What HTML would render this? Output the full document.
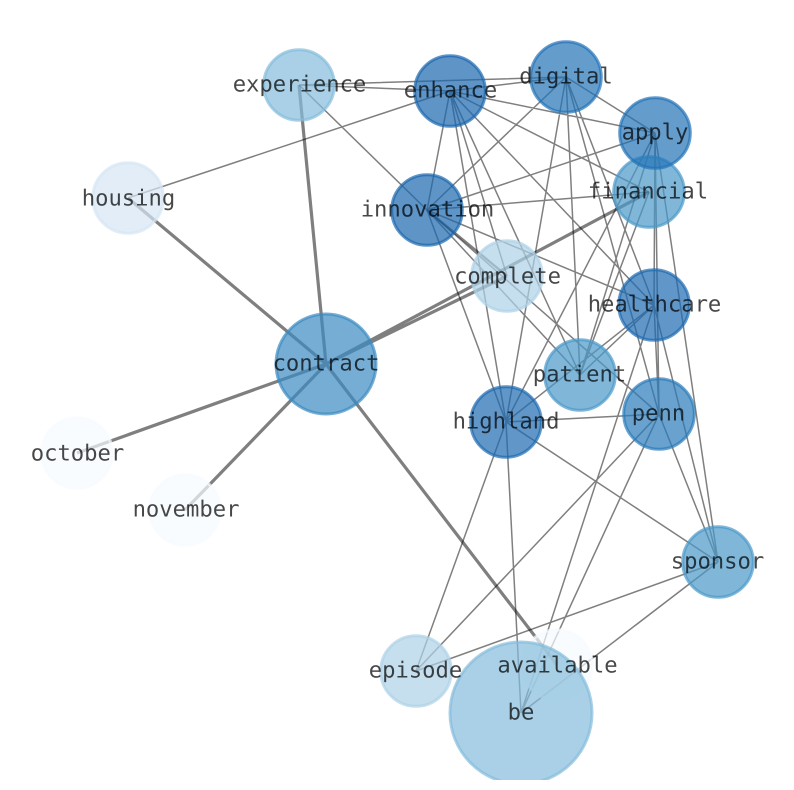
<!DOCTYPE html>
<html><head><meta charset="utf-8"><style>
html,body{margin:0;padding:0;background:#fff;width:794px;height:790px;overflow:hidden}
svg{display:block}
text{font-family:"DejaVu Sans Mono","Liberation Mono",monospace;font-size:22.2px;fill:#000;fill-opacity:.72;text-anchor:middle;text-rendering:geometricPrecision}
.t{stroke:#000;stroke-opacity:.5;stroke-width:1.5;fill:none}
.k{stroke:#000;stroke-opacity:.5;stroke-width:3.2;fill:none}
circle{fill-opacity:.7;stroke-opacity:.7;stroke-width:3}
</style></head><body>
<svg width="794" height="790" viewBox="0 0 794 790" xmlns="http://www.w3.org/2000/svg">
<defs><clipPath id="c"><rect x="0" y="0" width="794" height="780"/></clipPath></defs>
<g clip-path="url(#c)">
<path class="k" d="M326 364L128 198M326 364L299 85M326 364L77 453M326 364L185 510M326 364L557 665M326 364L649 192M326 364L507 276"/>
<path class="k" style="stroke-width:2.4" d="M427 210L507 276"/>
<path class="t" d="M299 85L450 91M299 85L566 77M299 85L427 210
M450 91L128 198M450 91L566 77M450 91L655 133M450 91L649 192M450 91L427 210M450 91L507 276M450 91L654 305M450 91L580 375M450 91L506 422
M566 77L655 133M566 77L427 210M566 77L506 422M566 77L580 375M566 77L654 305M566 77L659 414
M655 133L427 210M655 133L506 422M655 133L580 375M655 133L654 305M655 133L659 414M655 133L718 562
M649 192L427 210M649 192L580 375
M427 210L506 422M427 210L580 375M427 210L654 305M427 210L659 414
M654 305L580 375M654 305L506 422M654 305L659 414M654 305L718 562M654 305L521 713
M506 422L659 414M506 422L718 562M506 422L416 671M506 422L521 713
M659 414L416 671M659 414L521 713M659 414L718 562
M718 562L416 671M718 562L521 713"/>
<circle cx="299" cy="85" r="35.3" fill="#85bcdc" stroke="#85bcdc"/>
<circle cx="128" cy="198" r="35.3" fill="#d6e6f4" stroke="#d6e6f4"/>
<circle cx="77" cy="453" r="35.3" fill="#f7fbff" stroke="#f7fbff"/>
<circle cx="185" cy="510" r="35.3" fill="#f7fbff" stroke="#f7fbff"/>
<circle cx="557" cy="665" r="35.3" fill="#f7fbff" stroke="#f7fbff"/>
<circle cx="507" cy="276" r="35.3" fill="#aed1e7" stroke="#aed1e7"/>
<circle cx="416" cy="671" r="35.3" fill="#aed1e7" stroke="#aed1e7"/>
<circle cx="521" cy="713" r="71" fill="#85bcdc" stroke="#85bcdc"/>
<circle cx="326" cy="364" r="50" fill="#3a8ac2" stroke="#3a8ac2"/>
<circle cx="649" cy="192" r="35.3" fill="#4a98c9" stroke="#4a98c9"/>
<circle cx="580" cy="375" r="35.3" fill="#4a98c9" stroke="#4a98c9"/>
<circle cx="718" cy="562" r="35.3" fill="#4a98c9" stroke="#4a98c9"/>
<circle cx="659" cy="414" r="35.3" fill="#2a7ab9" stroke="#2a7ab9"/>
<circle cx="566" cy="77" r="35.3" fill="#2272b6" stroke="#2272b6"/>
<circle cx="655" cy="133" r="35.3" fill="#2272b6" stroke="#2272b6"/>
<circle cx="654" cy="305" r="35.3" fill="#1c6ab0" stroke="#1c6ab0"/>
<circle cx="506" cy="422" r="35.3" fill="#1c6ab0" stroke="#1c6ab0"/>
<circle cx="450" cy="91" r="35.3" fill="#1a67ae" stroke="#1a67ae"/>
<circle cx="427" cy="210" r="35.3" fill="#1a67ae" stroke="#1a67ae"/>
<text x="299.5" y="91.5">experience</text>
<text x="450.5" y="97.5">enhance</text>
<text x="566" y="83.5">digital</text>
<text x="655" y="139.5">apply</text>
<text x="648" y="198.5">financial</text>
<text x="128.5" y="205.5">housing</text>
<text x="427.5" y="216.5">innovation</text>
<text x="507.5" y="283.5">complete</text>
<text x="654.5" y="311.5">healthcare</text>
<text x="326" y="370.5">contract</text>
<text x="579.5" y="381.5">patient</text>
<text x="506" y="428.5">highland</text>
<text x="658.5" y="420.5">penn</text>
<text x="77.5" y="460.5">october</text>
<text x="186" y="516.5">november</text>
<text x="717.5" y="568.5">sponsor</text>
<text x="557.5" y="672.5">available</text>
<text x="415.5" y="677.5">episode</text>
<text x="521" y="719.5">be</text>
</g>
</svg>
</body></html>
